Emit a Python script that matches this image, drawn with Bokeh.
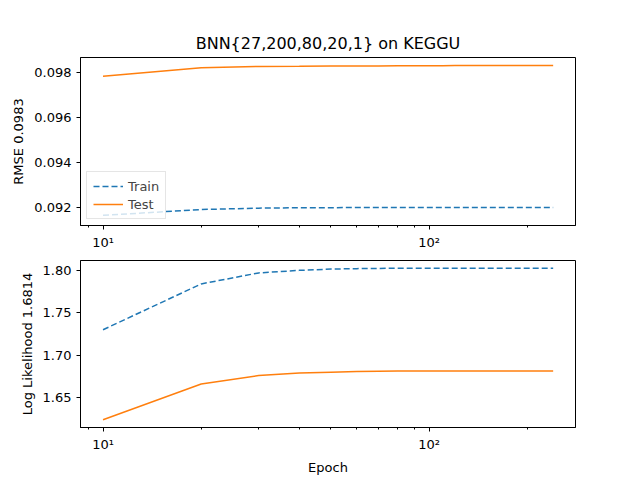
from bokeh.plotting import figure
from bokeh.layouts import column
from bokeh.models import FixedTicker, Range1d, Legend, LegendItem
from bokeh.embed import file_html
from bokeh.resources import INLINE

epochs = [10, 20, 30, 40, 50, 60, 70, 80, 90, 100, 110, 120, 130, 140, 150, 160, 170, 180, 190, 200, 210, 220, 230, 240]
rmse_train = [0.09165, 0.09191, 0.09197, 0.09199, 0.09199, 0.09200, 0.09200, 0.09200, 0.09200, 0.09200, 0.09200, 0.09200,
              0.09200, 0.09200, 0.09200, 0.09200, 0.09200, 0.09200, 0.09200, 0.09200, 0.09200, 0.09200, 0.09200, 0.09200]
rmse_test = [0.09783, 0.09820, 0.09826, 0.09827, 0.09828, 0.09828, 0.09828, 0.09829, 0.09829, 0.09829, 0.09829, 0.09830,
             0.09830, 0.09830, 0.09830, 0.09830, 0.09830, 0.09830, 0.09830, 0.09830, 0.09830, 0.09830, 0.09830, 0.09830]
ll_train = [1.730, 1.784, 1.797, 1.800, 1.8015, 1.802, 1.8023, 1.8025, 1.8026, 1.8026, 1.8026, 1.8026,
            1.8026, 1.8026, 1.8026, 1.8026, 1.8026, 1.8026, 1.8026, 1.8026, 1.8026, 1.8026, 1.8026, 1.8026]
ll_test = [1.624, 1.666, 1.676, 1.679, 1.680, 1.6808, 1.6811, 1.6813, 1.6814, 1.6814, 1.6814, 1.6814,
           1.6814, 1.6814, 1.6814, 1.6814, 1.6814, 1.6814, 1.6814, 1.6814, 1.6814, 1.6814, 1.6814, 1.6814]

BLUE = "#1f77b4"
ORANGE = "#ff7f0e"
FONT = "DejaVu Sans"
xr = (8.53, 281.0)
minor = [2, 3, 4, 5, 6, 7, 8, 9, 20, 30, 40, 50, 60, 70, 80, 90, 200, 300]


def style(p):
    p.xgrid.visible = False
    p.ygrid.visible = False
    p.outline_line_color = "black"
    p.xaxis.ticker = FixedTicker(ticks=[10, 100], minor_ticks=minor)
    p.xaxis.major_label_overrides = {10: "10¹", 100: "10²"}
    for ax in p.xaxis + p.yaxis:
        ax.major_label_text_font = FONT
        ax.major_label_text_font_size = "13px"
        ax.major_label_text_color = "black"
        ax.axis_label_text_font = FONT
        ax.axis_label_text_font_size = "13px"
        ax.axis_label_text_font_style = "normal"
        ax.axis_label_text_color = "black"
        ax.axis_line_color = "black"
        ax.major_tick_line_color = "black"
        ax.minor_tick_line_color = "black"
        ax.major_tick_in = 0
        ax.major_tick_out = 4
        ax.minor_tick_in = 0
        ax.minor_tick_out = 2


p1 = figure(width=640, height=252, x_axis_type="log", output_backend="svg", toolbar_location=None,
            x_range=Range1d(*xr), y_range=Range1d(0.09120, 0.09866),
            min_border_left=80, min_border_right=65, min_border_top=57, min_border_bottom=26,
            title="BNN{27,200,80,20,1} on KEGGU")
p1.title.text_font = FONT
p1.title.text_font_size = "16px"
p1.title.text_font_style = "normal"
p1.title.text_color = "black"
p1.title.align = "center"
style(p1)
p1.yaxis.ticker = FixedTicker(ticks=[0.092, 0.094, 0.096, 0.098])
p1.yaxis.major_label_overrides = {0.092: "0.092", 0.094: "0.094", 0.096: "0.096", 0.098: "0.098"}
p1.yaxis.axis_label = "RMSE 0.0983"
r1 = p1.line(epochs, rmse_train, color=BLUE, line_width=1.5, line_dash="6 3")
r2 = p1.line(epochs, rmse_test, color=ORANGE, line_width=1.5)
leg = Legend(items=[LegendItem(label="Train", renderers=[r1]), LegendItem(label="Test", renderers=[r2])],
             location="bottom_left", label_text_font=FONT, label_text_font_size="13px",
             border_line_color="#cccccc", background_fill_alpha=0.8, spacing=2, padding=6,
             margin=6, glyph_width=30, label_height=16, glyph_height=16)
p1.add_layout(leg)

p2 = figure(width=640, height=228, x_axis_type="log", output_backend="svg", toolbar_location=None,
            x_range=Range1d(*xr), y_range=Range1d(1.6148, 1.8116),
            min_border_left=80, min_border_right=65, min_border_top=8, min_border_bottom=53)
style(p2)
p2.yaxis.ticker = FixedTicker(ticks=[1.65, 1.70, 1.75, 1.80])
p2.yaxis.major_label_overrides = {1.65: "1.65", 1.7: "1.70", 1.75: "1.75", 1.8: "1.80"}
p2.yaxis.axis_label = "Log Likelihood 1.6814"
p2.xaxis.axis_label = "Epoch"
p2.line(epochs, ll_train, color=BLUE, line_width=1.5, line_dash="6 3")
p2.line(epochs, ll_test, color=ORANGE, line_width=1.5)

layout = column(p1, p2, spacing=0)
open("out.html", "w").write(file_html(layout, INLINE))
